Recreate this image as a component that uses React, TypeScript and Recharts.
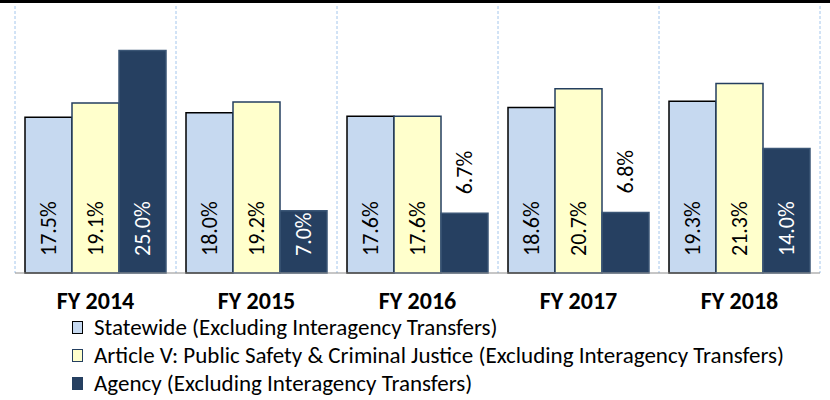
import React from "react";
import { BarChart, Bar, XAxis, YAxis, CartesianGrid, LabelList, Legend } from "recharts";

const years = ["FY 2014", "FY 2015", "FY 2016", "FY 2017", "FY 2018"];
const statewide = [17.5, 18.0, 17.6, 18.6, 19.3];
const articleV = [19.1, 19.2, 17.6, 20.7, 21.3];
const agency = [25.0, 7.0, 6.7, 6.8, 14.0];

const SERIES = [
  { key: "statewide", name: "Statewide (Excluding Interagency Transfers)", fill: "#C6D9F0", stroke: "#000000", text: "#000000" },
  { key: "articleV", name: "Article V: Public Safety & Criminal Justice (Excluding Interagency Transfers)", fill: "#FFFFCC", stroke: "#243F60", text: "#000000" },
  { key: "agency", name: "Agency (Excluding Interagency Transfers)", fill: "#264061", stroke: "#3B5676", text: "#FFFFFF" },
];

const data = years.map((year, i) => ({
  year,
  statewide: statewide[i],
  articleV: articleV[i],
  agency: agency[i],
}));

const FONT = "Carlito, Lato, sans-serif";
const MIN_INSIDE_HEIGHT = 61;

const makeLabel = (textColor: string) => (props: any) => {
  const { x, y, width, height, value } = props;
  const cx = x + width / 2;
  const inside = height >= MIN_INSIDE_HEIGHT;
  const sy = inside ? y + height - 17 : y - 19;
  return (
    <text
      x={cx}
      y={sy}
      transform={`rotate(-90, ${cx}, ${sy})`}
      textAnchor="start"
      dominantBaseline="central"
      fill={inside ? textColor : "#000000"}
      fontSize={22}
      fontFamily={FONT}
    >
      {`${Number(value).toFixed(1)}%`}
    </text>
  );
};

const renderTick = (props: any) => {
  const { x, y, payload } = props;
  return (
    <text x={x} y={y + 19} textAnchor="middle" dominantBaseline="central" fontSize={24} fontWeight="bold" fontFamily={FONT} fill="#000">
      {payload.value}
    </text>
  );
};

const renderLegend = () => (
  <div style={{ fontFamily: FONT, fontSize: 23, color: "#000" }}>
    {SERIES.map((s) => (
      <div key={s.key} style={{ display: "flex", alignItems: "center", height: 28 }}>
        <span
          style={{
            display: "inline-block",
            width: 9,
            height: 11,
            background: s.fill,
            border: `1.5px solid ${s.key === "statewide" ? "#000" : "#243F60"}`,
            marginRight: 11,
          }}
        />
        <span style={{ lineHeight: "23px" }}>{s.name}</span>
      </div>
    ))}
  </div>
);

export default function App() {
  return (
    <div style={{ position: "absolute", left: 0, top: 0, width: 830, height: 400, background: "#fff", borderTop: "3px solid #000", boxSizing: "border-box" }}>
      <BarChart
        width={830}
        height={397}
        data={data}
        margin={{ top: 3, right: 10, left: 15, bottom: 70 }}
        barCategoryGap={10}
        barGap={0}
      >
        <CartesianGrid
          horizontal={false}
          stroke="#A4C6EC"
          strokeDasharray="3 2"
          verticalCoordinatesGenerator={({ offset }: any) =>
            years.map((_, i) => offset.left + (i * offset.width) / years.length).concat(offset.left + offset.width)
          }
        />
        <XAxis dataKey="year" axisLine={{ stroke: "#8C8C8C" }} tickLine={false} tick={renderTick} height={57} />
        <YAxis hide domain={[0, 30]} />
        <Legend
          layout="horizontal"
          verticalAlign="middle"
          align="center"
          content={renderLegend}
          wrapperStyle={{ left: 72, top: 310, width: "auto" }}
        />
        {SERIES.map((s) => (
          <Bar key={s.key} dataKey={s.key} name={s.name} fill={s.fill} stroke={s.stroke} strokeWidth={1.5} isAnimationActive={false}>
            <LabelList dataKey={s.key} content={makeLabel(s.text)} />
          </Bar>
        ))}
      </BarChart>
    </div>
  );
}
